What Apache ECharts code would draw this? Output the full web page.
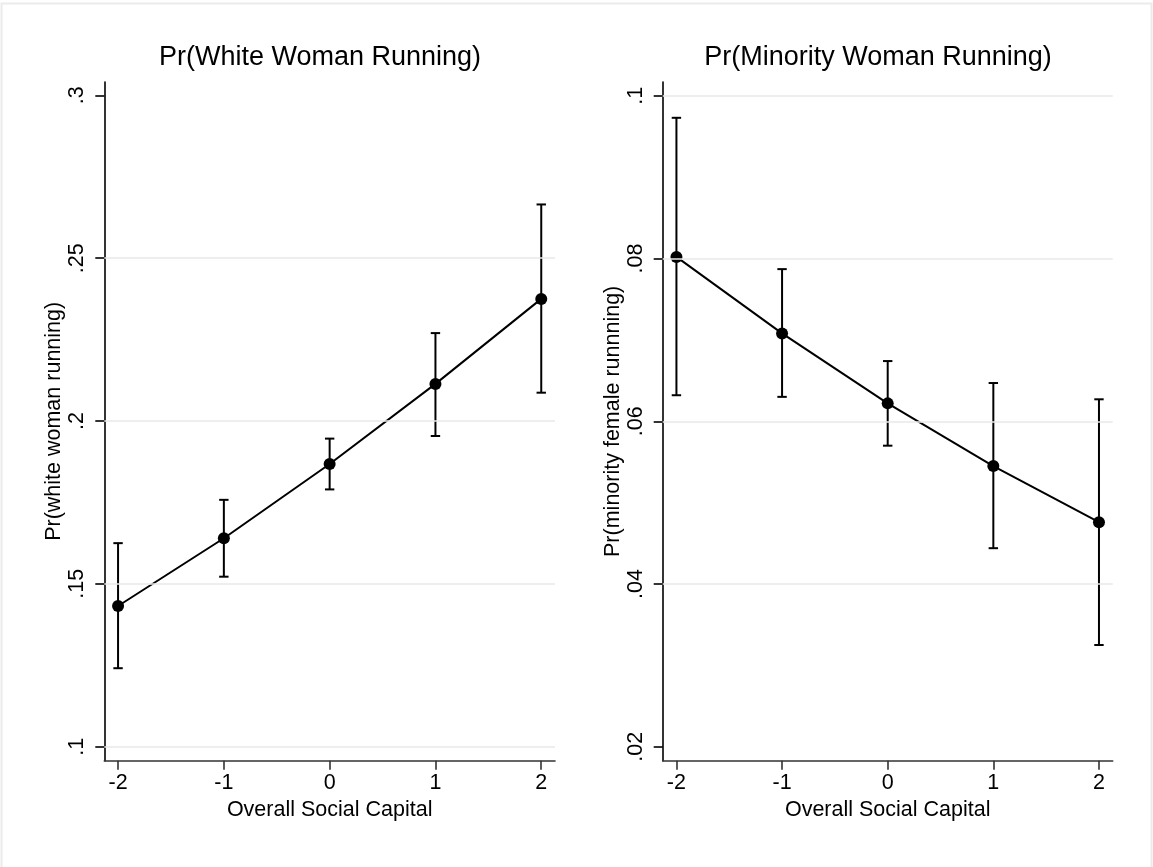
<!DOCTYPE html>
<html>
<head>
<meta charset="utf-8">
<script src="https://cdn.jsdelivr.net/npm/echarts@6/dist/echarts.min.js"></script>
<style>
html,body{margin:0;padding:0;background:#fff;}
#c{width:1153px;height:867px;}
</style>
</head>
<body>
<div id="c"></div>
<script>
// ---- data ----
const xs = [-2, -1, 0, 1, 2];
const xTicks = [-2, -1, 0, 1, 2];

const whiteMean = [0.1432, 0.1640, 0.1868, 0.2114, 0.2375];
const whiteLow  = [0.1241, 0.1522, 0.1790, 0.1954, 0.2087];
const whiteHigh = [0.1625, 0.1758, 0.1946, 0.2270, 0.2665];

const minMean = [0.0802, 0.0708, 0.0622, 0.0545, 0.0476];
const minLow  = [0.0632, 0.0630, 0.0570, 0.0444, 0.0325];
const minHigh = [0.0973, 0.0787, 0.0674, 0.0647, 0.0627];

const whiteTicks = [0.1, 0.15, 0.2, 0.25, 0.3];
const whiteGrid  = [0.1, 0.15, 0.2, 0.25];
const minTicks = [0.02, 0.04, 0.06, 0.08, 0.1];
const minGrid  = [0.04, 0.06, 0.08, 0.1];

const titles = ['Pr(White Woman Running)', 'Pr(Minority Woman Running)'];
const yNames = ['Pr(white woman running)', 'Pr(minority female runnning)'];
const xName = 'Overall Social Capital';

// ---- helpers ----
const FONT = 'Liberation Sans, Arial, Helvetica, sans-serif';
const stripZero = v => String(+v.toFixed(4)).replace(/^0\./, '.');

function errRender(params, api) {
  const x = api.value(0), lo = api.value(1), hi = api.value(2);
  const p1 = api.coord([x, lo]);
  const p2 = api.coord([x, hi]);
  const w = 4.7;
  const st = {stroke: '#000', lineWidth: 2};
  return {
    type: 'group',
    children: [
      {type: 'line', shape: {x1: p1[0], y1: p1[1], x2: p2[0], y2: p2[1]}, style: st},
      {type: 'line', shape: {x1: p1[0] - w, y1: p1[1], x2: p1[0] + w, y2: p1[1]}, style: st},
      {type: 'line', shape: {x1: p2[0] - w, y1: p2[1], x2: p2[0] + w, y2: p2[1]}, style: st}
    ]
  };
}

function xAxisCfg(gi) {
  return {
    type: 'value', gridIndex: gi, min: -2.13, max: 2.13,
    name: xName, nameLocation: 'middle', nameGap: 33,
    nameTextStyle: {fontFamily: FONT, fontSize: 21.5, color: '#000', verticalAlign: 'top'},
    axisLine: {show: true, onZero: false, lineStyle: {color: '#333', width: 1.6}},
    axisTick: {show: true, length: 9, customValues: xTicks, lineStyle: {color: '#333', width: 1.6}},
    axisLabel: {customValues: xTicks, margin: 11, fontFamily: FONT, fontSize: 21.5, color: '#000',
      formatter: v => String(v)},
    splitLine: {show: false}
  };
}
function yAxisCfg(gi, min, max, ticks, name) {
  return {
    type: 'value', gridIndex: gi, min: min, max: max,
    name: name, nameLocation: 'middle', nameGap: 36, nameRotate: 90,
    nameTextStyle: {fontFamily: FONT, fontSize: 21.5, color: '#000'},
    axisLine: {show: true, onZero: false, lineStyle: {color: '#000', width: 1.6}},
    axisTick: {show: true, length: 9, customValues: ticks, lineStyle: {color: '#000', width: 1.6}},
    axisLabel: {customValues: ticks, rotate: 90, margin: 16, fontFamily: FONT, fontSize: 21.5, color: '#000',
      formatter: stripZero},
    splitLine: {show: false}
  };
}
function gridLines(vals) {
  return {
    silent: true, symbol: ['none', 'none'], animation: false,
    label: {show: false},
    lineStyle: {color: '#e8e8e8', width: 1.6, type: 'solid'},
    emphasis: {disabled: true},
    data: vals.map(v => ({yAxis: v}))
  };
}

const chart = echarts.init(document.getElementById('c'), null, {renderer: 'canvas'});
chart.setOption({
  animation: false,
  backgroundColor: '#fff',
  title: [
    {text: titles[0], left: 320, textAlign: 'center', top: 44, padding: 0,
     textStyle: {fontFamily: FONT, fontSize: 27, fontWeight: 'normal', color: '#000'}},
    {text: titles[1], left: 878, textAlign: 'center', top: 44, padding: 0,
     textStyle: {fontFamily: FONT, fontSize: 27, fontWeight: 'normal', color: '#000'}}
  ],
  graphic: [
    {type: 'rect', silent: true, z: -10,
     shape: {x: 1.5, y: 3.5, width: 1150, height: 880},
     style: {fill: 'none', stroke: '#ebebeb', lineWidth: 2}}
  ],
  grid: [
    {left: 104.3, top: 82, width: 450.7, height: 678.7},
    {left: 662.7, top: 82, width: 450, height: 678.7}
  ],
  xAxis: [xAxisCfg(0), xAxisCfg(1)],
  yAxis: [
    yAxisCfg(0, 0.0957, 0.3041, whiteTicks, yNames[0]),
    yAxisCfg(1, 0.01828, 0.1017, minTicks, yNames[1])
  ],
  series: [
    {type: 'line', xAxisIndex: 0, yAxisIndex: 0, data: [], markLine: gridLines(whiteGrid), z: 1},
    {type: 'line', xAxisIndex: 1, yAxisIndex: 1, data: [], markLine: gridLines(minGrid), z: 1},
    {type: 'custom', xAxisIndex: 0, yAxisIndex: 0, renderItem: errRender, z: 3,
     encode: {x: 0, y: [1, 2]},
     data: xs.map((x, i) => [x, whiteLow[i], whiteHigh[i]])},
    {type: 'custom', xAxisIndex: 1, yAxisIndex: 1, renderItem: errRender, z: 3,
     encode: {x: 0, y: [1, 2]},
     data: xs.map((x, i) => [x, minLow[i], minHigh[i]])},
    {type: 'line', xAxisIndex: 0, yAxisIndex: 0, z: 4,
     data: xs.map((x, i) => [x, whiteMean[i]]),
     symbol: 'circle', symbolSize: 12, showAllSymbol: true,
     itemStyle: {color: '#000'}, lineStyle: {color: '#000', width: 2}},
    {type: 'line', xAxisIndex: 1, yAxisIndex: 1, z: 4,
     data: xs.map((x, i) => [x, minMean[i]]),
     symbol: 'circle', symbolSize: 12, showAllSymbol: true,
     itemStyle: {color: '#000'}, lineStyle: {color: '#000', width: 2}}
  ]
});
</script>
</body>
</html>
